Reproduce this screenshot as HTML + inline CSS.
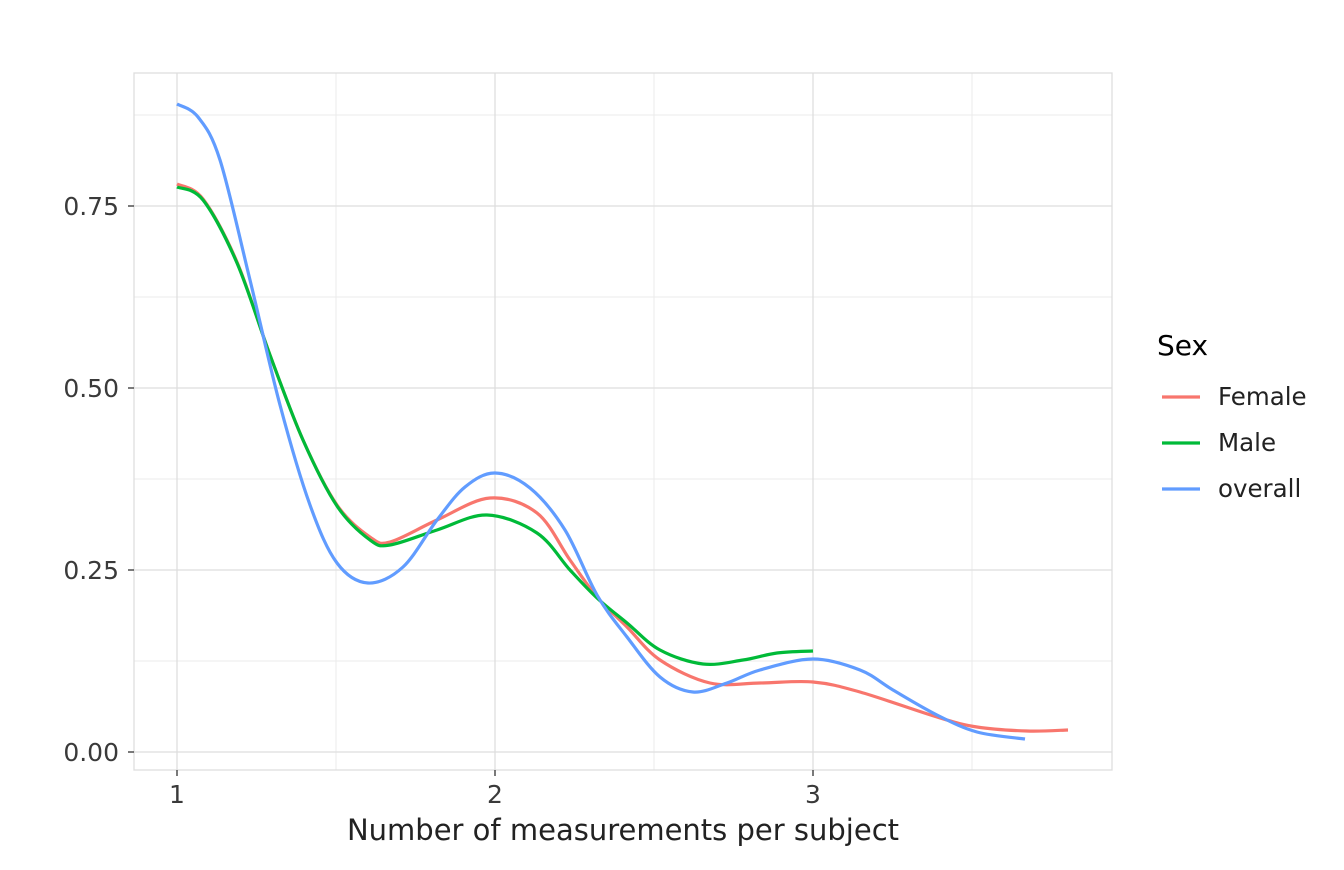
<!DOCTYPE html>
<html><head><meta charset="utf-8"><style>
body{margin:0;background:#fff;}
svg text{font-family:"DejaVu Sans","Liberation Sans",sans-serif;}
</style></head><body>
<svg id="s" width="1344" height="865" xmlns="http://www.w3.org/2000/svg">
<rect width="1344" height="865" fill="#fff"/>
<g stroke="#ebebeb" stroke-width="1">
<line x1="134" x2="1112" y1="661" y2="661"/><line x1="134" x2="1112" y1="479" y2="479"/>
<line x1="134" x2="1112" y1="297" y2="297"/><line x1="134" x2="1112" y1="115" y2="115"/>
<line y1="73" y2="770" x1="336" x2="336"/><line y1="73" y2="770" x1="654" x2="654"/><line y1="73" y2="770" x1="972" x2="972"/>
</g>
<g stroke="#dedede" stroke-width="1.3">
<line x1="134" x2="1112" y1="752" y2="752"/><line x1="134" x2="1112" y1="570" y2="570"/>
<line x1="134" x2="1112" y1="388" y2="388"/><line x1="134" x2="1112" y1="206" y2="206"/>
<line y1="73" y2="770" x1="177" x2="177"/><line y1="73" y2="770" x1="495" x2="495"/><line y1="73" y2="770" x1="813" x2="813"/>
</g>
<rect x="134" y="73" width="978" height="697" fill="none" stroke="#dedede" stroke-width="1.3"/>
<path id="f" fill="none" stroke="#F8766D" stroke-width="3.2"/>
<path id="m" fill="none" stroke="#00BA38" stroke-width="3.2"/>
<path id="o" fill="none" stroke="#619CFF" stroke-width="3.2"/>
<g stroke="#333" stroke-width="1.3">
<line x1="128" x2="134" y1="752" y2="752"/><line x1="128" x2="134" y1="570" y2="570"/><line x1="128" x2="134" y1="388" y2="388"/><line x1="128" x2="134" y1="206" y2="206"/>
<line y1="770" y2="776" x1="177" x2="177"/><line y1="770" y2="776" x1="495" x2="495"/><line y1="770" y2="776" x1="813" x2="813"/>
</g>
<g font-size="25" fill="#3a3a3a" text-anchor="end">
<text x="119" y="761">0.00</text><text x="119" y="579">0.25</text><text x="119" y="397">0.50</text><text x="119" y="215">0.75</text>
</g>
<g font-size="25" fill="#3a3a3a" text-anchor="middle">
<text x="177" y="803">1</text><text x="495" y="803">2</text><text x="813" y="803">3</text>
</g>
<text x="623" y="840" font-size="29" text-anchor="middle" fill="#222">Number of measurements per subject</text>
<text x="1157" y="355" font-size="28" fill="#000">Sex</text>
<line x1="1162" x2="1200" y1="397" y2="397" stroke="#F8766D" stroke-width="3.2"/>
<line x1="1162" x2="1200" y1="443" y2="443" stroke="#00BA38" stroke-width="3.2"/>
<line x1="1162" x2="1200" y1="489" y2="489" stroke="#619CFF" stroke-width="3.2"/>
<g font-size="24.5" fill="#222"><text x="1218" y="405">Female</text><text x="1218" y="451">Male</text><text x="1218" y="497">overall</text></g>
</svg>
<script>
function cr(p){let d="M"+p[0][0]+","+p[0][1];for(let i=0;i<p.length-1;i++){const a=p[i-1]||p[i],b=p[i],c=p[i+1],e=p[i+2]||c;
d+=" C"+(b[0]+(c[0]-a[0])/6)+","+(b[1]+(c[1]-a[1])/6)+" "+(c[0]-(e[0]-b[0])/6)+","+(c[1]-(e[1]-b[1])/6)+" "+c[0]+","+c[1];}return d;}
document.getElementById("o").setAttribute("d",cr([[177,104],[198,117],[220,160],[250,280],[280,405],[310,505],[337,563],[368,583],[403,567],[437,520],[465,487],[495,473],[530,488],[565,530],[597,595],[627,637],[660,677],[693,692],[727,683],[760,670],[813,659],[860,670],[893,690],[937,715],[977,732],[1025,739]]));
document.getElementById("f").setAttribute("d",cr([[177,184],[203,199],[237,262],[270,355],[303,440],[337,505],[370,537],[390,542],[437,520],[490,498],[537,513],[570,560],[597,597],[627,627],[660,660],[710,683],[760,683],[813,682],[860,692],[937,717],[977,727],[1027,731],[1068,730]]));
document.getElementById("m").setAttribute("d",cr([[177,187],[203,200],[237,263],[270,355],[303,440],[337,506],[370,540],[390,545],[437,530],[487,515],[537,533],[570,570],[597,598],[627,623],[660,650],[703,664],[743,660],[777,653],[813,651]]));
</script>
</body></html>
